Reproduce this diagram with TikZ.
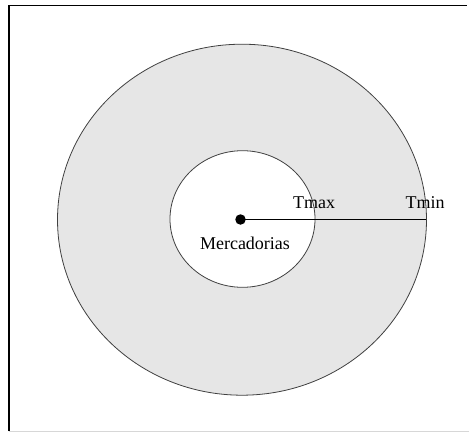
\documentclass[tikz,border=0pt]{standalone}
\usepackage{fontspec}
\setmainfont{Liberation Serif}
\definecolor{ringgray}{RGB}{230,230,230}
\definecolor{edgegray}{RGB}{215,215,215}
\begin{document}
\begin{tikzpicture}[x=1pt,y=1pt,
  lbl/.style={anchor=base,inner sep=0pt,font=\fontsize{18}{20}\selectfont},
  ring/.style={draw=black!75,line width=0.8pt}]
\useasboundingbox (0,0) rectangle (469,432);
% frame
\draw[line width=1.3pt] (9,1) -- (9,426.7) -- (467,426.7);
\draw[edgegray,line width=1pt] (9,1) -- (469,1);
% outer ring
\draw[ring,fill=ringgray] (242,212.3) ellipse [x radius=184.5,y radius=175.5];
% inner circle
\draw[ring,fill=white] (242.5,213) ellipse [x radius=72.5,y radius=68.3];
% center dot and radius
\node[circle,fill=black,inner sep=0pt,minimum size=10.5pt] (dot) at (240.5,212.5) {};
\coordinate (tminpt) at (425.7,212.5);
\draw[line width=0.9pt] (dot.center) -- (tminpt);
\node[lbl] (tmax) at (314,224) {Tmax};
\node[lbl] (tmin) at (425,224) {Tmin};
\node[lbl] (merc) at (245,183) {Mercadorias};
\end{tikzpicture}
\end{document}
